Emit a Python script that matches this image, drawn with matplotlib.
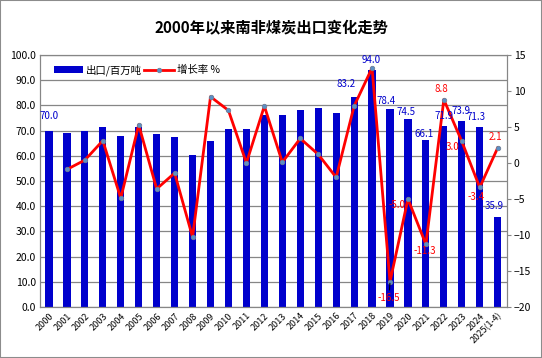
import matplotlib.pyplot as plt
import numpy as np
from matplotlib.patches import Rectangle

plt.rcParams['font.family'] = ['Noto Sans CJK SC', 'DejaVu Sans']

# data
years = ['2000', '2001', '2002', '2003', '2004', '2005', '2006', '2007', '2008',
         '2009', '2010', '2011', '2012', '2013', '2014', '2015', '2016', '2017',
         '2018', '2019', '2020', '2021', '2022', '2023', '2024', '2025(1-4)']
exports = [70.0, 69.2, 69.7, 71.5, 68.0, 71.5, 68.8, 67.6, 60.5, 66.0, 70.8, 70.8,
           76.0, 76.0, 78.3, 79.1, 77.1, 83.2, 94.0, 78.4, 74.5, 66.1, 71.9, 73.9,
           71.3, 35.9]
growth = [np.nan, -0.9, 0.4, 3.1, -4.9, 5.3, -3.6, -1.4, -10.3, 9.2, 7.3, 0.0,
          7.9, 0.1, 3.4, 1.2, -2.0, 7.9, 13.2, -16.5, -5.0, -11.3, 8.8, 3.0,
          -3.4, 2.1]

# which points carry labels, with pixel offsets
bar_labels = {0: (0, 15), 17: (-8, 13), 18: (-1, 10), 19: (-4, 8), 20: (-2, 7),
              21: (-2, 6), 22: (0, 10), 23: (-1, 10), 24: (-4, 10), 25: (-4, 11)}
line_labels = {19: (-1, -16), 20: (-11, -6), 21: (-1, -7), 22: (-2, 11),
               23: (-9, -6), 24: (-4, -10), 25: (-2, 11)}

blue = '#0000CC'
red = '#FF0000'
grid = '#868686'

fig = plt.figure(figsize=(5.42, 3.58), dpi=100)
fig.patches.append(Rectangle((0, 0), 1, 1, transform=fig.transFigure,
                             fill=False, edgecolor='#8c8c8c', lw=1.5))
ax = fig.add_axes([0.0738, 0.1425, 0.861, 0.704])
x = np.arange(len(years))

ax.bar(x, exports, width=0.4, color=blue, label='出口/百万吨', zorder=2)
ax.set_ylim(0, 100)
ax.set_xlim(-0.5, len(years) - 0.5)
ax.set_yticks(np.arange(0, 101, 10))
ax.set_yticklabels([f'{v:.1f}' for v in np.arange(0, 101, 10)], fontsize=7.5)
ax.yaxis.grid(True, color=grid, lw=0.9, zorder=0)
ax.set_axisbelow(True)
ax.tick_params(axis='y', length=0, pad=3)
ax.set_xticks(x)
ax.set_xticklabels(years, rotation=45, ha='right', va='top',
                   rotation_mode='anchor', fontsize=6.5)
ax.tick_params(axis='x', length=0, pad=3)
for s in ax.spines.values():
    s.set_color(grid)

ax2 = ax.twinx()
ax2.plot(x, growth, color=red, lw=2, marker='o', ms=3.2, mfc='#5b8fc7',
         mec='#6f7f96', mew=0.6, label='增长率 %', zorder=3)
ax2.set_ylim(-20, 15)
ax2.set_yticks(np.arange(-20, 16, 5))
ax2.tick_params(axis='y', labelsize=7.5, length=3, color=grid, pad=2)
for s in ax2.spines.values():
    s.set_color(grid)

# bar labels drawn on ax2 so the line does not hide them
for i, (dx, dy) in bar_labels.items():
    ax2.annotate(f'{exports[i]:.1f}', (x[i], exports[i]), xytext=(dx, dy),
                 xycoords=ax.transData, textcoords='offset pixels',
                 ha='center', va='center', color=blue, fontsize=7, zorder=5)

for i, (dx, dy) in line_labels.items():
    if i == 19:
        ax2.annotate(f'{growth[i]:.1f}', (x[i], growth[i]), xytext=(dx, dy),
                     textcoords='offset pixels', ha='center', va='center',
                     color=red, fontsize=7,
                     arrowprops=dict(arrowstyle='-', color='black', lw=0.8,
                                     shrinkA=6, shrinkB=1))
    else:
        ax2.annotate(f'{growth[i]:.1f}', (x[i], growth[i]), xytext=(dx, dy),
                     textcoords='offset pixels', ha='center', va='center',
                     color=red, fontsize=7)

h1, l1 = ax.get_legend_handles_labels()
h2, l2 = ax2.get_legend_handles_labels()
ax2.legend(h1 + h2, l1 + l2, loc='upper left', ncol=2, frameon=False,
           fontsize=7.5, bbox_to_anchor=(0.01, 1.0), handlelength=2.8,
           handleheight=0.6, columnspacing=0.2, handletextpad=0.3)

fig.text(0.5, 0.92, '2000年以来南非煤炭出口变化走势', ha='center', va='center',
         fontsize=11, fontweight='bold')

fig.savefig('out.png', dpi=100)
